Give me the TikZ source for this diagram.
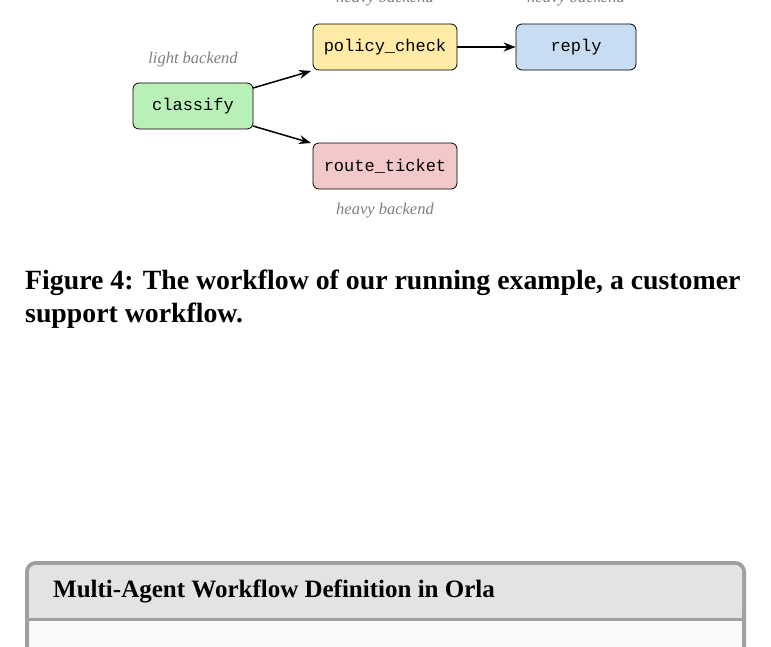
\documentclass[tikz,border=0pt]{standalone}
\usepackage{fontspec}
\setmainfont{Liberation Serif}
\setmonofont{Liberation Mono}
\usetikzlibrary{arrows.meta,positioning}
\definecolor{stagegreen}{HTML}{B8F0B8}
\definecolor{stageyellow}{HTML}{FFEBA6}
\definecolor{stageblue}{HTML}{C8DCF2}
\definecolor{stagered}{HTML}{F2C8C8}
\tikzset{stage/.style={draw=black, rounded corners=6pt, minimum height=46pt, font=\fontsize{17}{20}\selectfont\ttfamily, line width=0.8pt}}
\tikzset{backend/.style={text=gray, font=\fontsize{16.5}{19}\selectfont\itshape}}
\tikzset{flow/.style={-{Stealth[length=12pt,width=9pt]}, line width=1.5pt}}
\begin{document}
\begin{tikzpicture}[x=1pt,y=-1pt]
\clip (0,0) rectangle (771,646);
\fill[white] (0,0) rectangle (771,646);
\node[stage, fill=stagegreen, minimum width=120pt] (cl) at (193,106) {classify};
\node[stage, fill=stageyellow, minimum width=144pt] (pc) at (385,47) {policy\_check};
\node[stage, fill=stageblue, minimum width=120pt] (rp) at (576,47) {reply};
\node[stage, fill=stagered, minimum width=144pt] (rt) at (385,166) {route\_ticket};

\node[backend] (lcl) at (193,60) {light backend};
\node[backend] (lpc) at (385,-1) {heavy backend};
\node[backend] (lrp) at (576,-1) {heavy backend};
\node[backend] (lrt) at (385,211) {heavy backend};

\coordinate (c1) at (253,88);
\coordinate (c2) at (253,126);
\coordinate (p1) at (311,71);
\coordinate (r1) at (311,143);
\draw[flow] (c1) -- (p1);
\draw[flow] (c2) -- (r1);
\draw[flow] (pc) -- (rp);

\node[anchor=base west, font=\fontsize{27.8}{30}\selectfont\bfseries, inner sep=0] (cap1) at (25,289) {Figure 4: The workflow of our running example, a customer};
\node[anchor=base west, font=\fontsize{27.8}{30}\selectfont\bfseries, inner sep=0] (cap2) at (25,322) {support workflow.};

\draw[line width=4pt, draw=gray!75, fill=gray!4, rounded corners=9pt] (27,563) rectangle (744,700);
\fill[gray!22, rounded corners=7pt] (29,565) rectangle (742,620);
\fill[gray!22] (29,600) rectangle (742,618);
\draw[line width=3pt, gray!75] (27,619) -- (744,619);
\node[anchor=base west, font=\fontsize{25}{28}\selectfont\bfseries, inner sep=0] (ttl) at (53,597) {Multi-Agent Workflow Definition in Orla};
\end{tikzpicture}
\end{document}
